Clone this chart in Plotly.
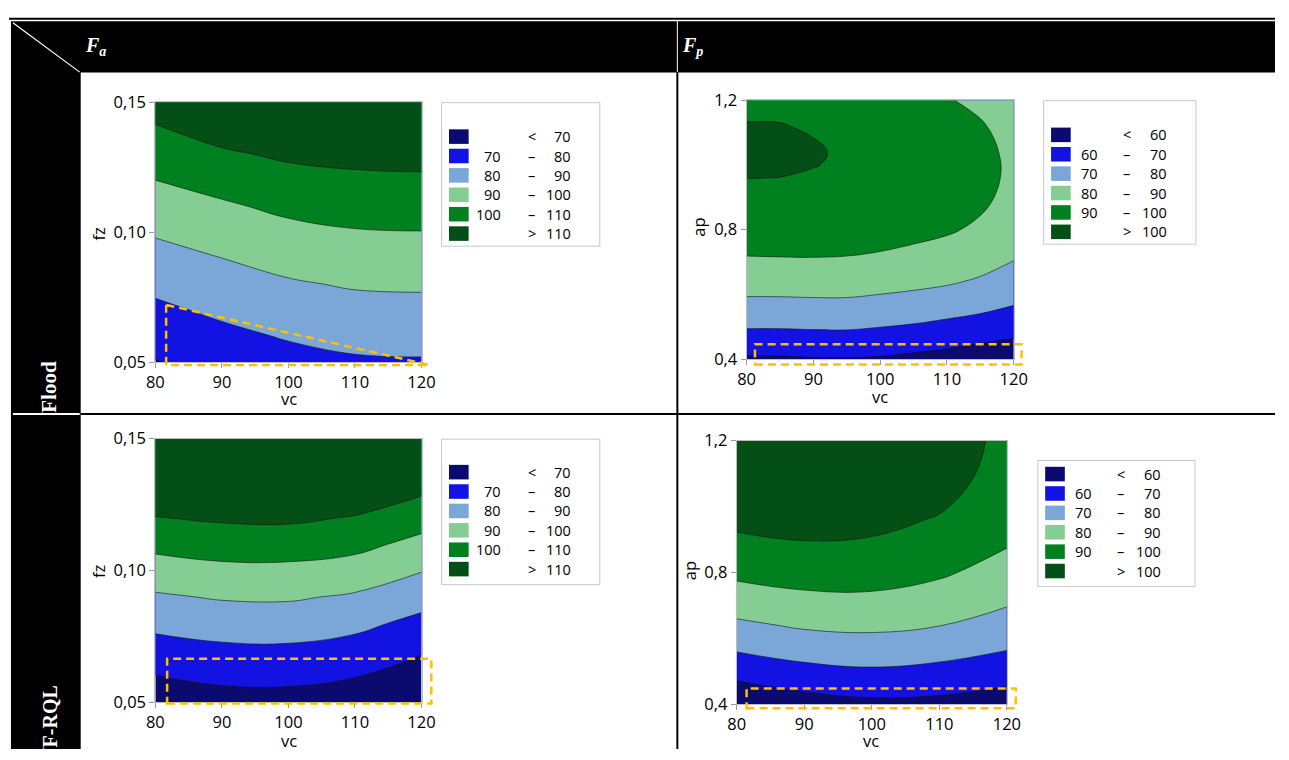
import plotly.graph_objects as go

W, H = 1289, 760
FONT = "Open Sans"
SERIF = "Liberation Serif"

# ---------------- data ----------------
vc = [80, 90, 100, 110, 120]
vc_fine = [80, 85, 90, 95, 100, 105, 110, 115, 120]
fz = [0.05, 0.06, 0.07, 0.08, 0.09, 0.10, 0.11, 0.12, 0.13, 0.14, 0.15]
ap = [0.40, 0.48, 0.56, 0.64, 0.72, 0.80, 0.88, 0.96, 1.04, 1.12, 1.20]
ap_fine = [0.40, 0.48, 0.56, 0.64, 0.72, 0.80, 0.88, 0.92, 0.96, 1.00, 1.04, 1.08, 1.12, 1.16, 1.20]

# Fa, Flood : one list per vc column, values along fz
fa_flood_cols = [
    [69.6, 73.8, 78.1, 82.3, 86.6, 91.0, 95.5, 100.0, 104.7, 109.3, 114.0],   # vc 80
    [73.6, 77.7, 81.8, 85.9, 90.0, 94.3, 98.7, 103.6, 108.7, 113.9, 119.0],   # vc 90
    [76.7, 80.8, 84.9, 89.0, 93.2, 97.6, 102.1, 106.8, 111.5, 116.2, 120.8],  # vc 100
    [78.8, 82.8, 86.8, 90.9, 95.2, 99.4, 103.8, 108.2, 112.6, 117.0, 121.5],  # vc 110
    [79.2, 83.2, 87.2, 91.3, 95.6, 99.8, 104.2, 108.6, 113.0, 117.4, 121.9],  # vc 120
]
# Fp, Flood : one list per vc column (vc_fine), values along ap_fine
fp_flood_cols = [
    [58.7, 68.5, 77.0, 84.2, 90.1, 94.7, 98.0, 99.18, 100.04, 100.57, 100.79, 100.68, 100.25, 99.49, 98.42],  # 80
    [58.8, 68.5, 77.0, 84.3, 90.3, 94.8, 97.97, 99.13, 99.97, 100.50, 100.71, 100.62, 100.20, 99.48, 98.44],  # 85
    [59.3, 68.8, 77.3, 84.4, 90.4, 94.65, 97.9, 98.94, 99.67, 100.10, 100.22, 100.035, 99.55, 98.75, 97.65],  # 90
    [59.4, 68.9, 77.3, 84.4, 90.1, 94.4, 97.45, 98.49, 99.2, 99.61, 99.7, 99.45, 98.9, 98.01, 96.8],       # 95
    [59.0, 68.0, 76.5, 83.4, 89.3, 93.7, 96.5, 97.43, 98.0, 98.2, 98.1, 97.6, 96.8, 95.63, 94.1],          # 100
    [57.7, 66.9, 75.4, 82.4, 88.0, 92.5, 95.2, 96.0, 96.5, 96.6, 96.4, 95.8, 94.9, 93.66, 92.1],           # 105
    [56.4, 65.3, 73.8, 81.1, 86.5, 91.0, 93.7, 94.55, 95.05, 95.2, 95.0, 94.45, 93.55, 92.3, 90.7],        # 110
    [53.9, 63.65, 72.0, 78.9, 84.45, 88.55, 91.2, 92.04, 92.5, 92.6, 92.3, 91.72, 90.8, 89.43, 87.75],     # 115
    [52.9, 61.9, 69.5, 75.9, 81.0, 84.7, 87.2, 87.9, 88.3, 88.4, 88.1, 87.57, 86.7, 85.45, 83.9],          # 120
]
# Fa, NF-RQL
fa_rql_cols = [
    [63.4, 69.8, 76.2, 82.5, 88.8, 95.6, 102.6, 109.7, 116.8, 123.9, 131.0],  # 80
    [66.1, 72.2, 78.2, 84.5, 90.8, 97.6, 104.5, 111.3, 118.2, 125.0, 131.8],  # 90
    [66.3, 72.4, 78.5, 84.7, 91.1, 97.7, 104.6, 111.7, 118.8, 125.9, 133.0],  # 100
    [64.3, 70.4, 76.4, 82.5, 88.8, 95.8, 102.7, 109.4, 116.1, 122.7, 129.4],  # 110
    [59.0, 65.1, 71.2, 77.4, 83.8, 90.4, 97.2, 104.2, 111.2, 118.2, 125.3],   # 120
]
# Fp, NF-RQL
fp_rql_cols = [
    [51.5, 61.0, 70.1, 78.2, 85.6, 92.1, 97.5, 102.2, 105.6, 108.0, 109.35],  # 80
    [55.45, 64.9, 73.5, 81.2, 88.0, 94.0, 99.1, 103.4, 106.8, 109.3, 111.0],  # 90
    [57.7, 66.65, 74.75, 82.0, 88.4, 93.95, 98.6, 102.45, 105.4, 107.5, 108.8],  # 100
    [57.2, 65.4, 73.0, 80.2, 86.1, 91.3, 95.7, 99.35, 102.3, 104.45, 105.9],  # 110
    [54.4, 62.5, 69.7, 76.1, 81.7, 86.4, 90.3, 93.3, 95.5, 96.8, 97.3],       # 120
]

vc_ticks = [80, 90, 100, 110, 120]
vc_ticktext = ["80", "90", "100", "110", "120"]
fz_ticks = [0.05, 0.10, 0.15]
fz_ticktext = ["0,05", "0,10", "0,15"]
ap_ticks = [0.4, 0.8, 1.2]
ap_ticktext = ["0,4", "0,8", "1,2"]

fa_levels = [70, 110]
fp_levels = [60, 100]
fa_legend_lo = ["", "70", "80", "90", "100", ""]
fa_legend_sym = ["<", "–", "–", "–", "–", ">"]
fa_legend_hi = ["70", "80", "90", "100", "110", "110"]
fp_legend_lo = ["", "60", "70", "80", "90", ""]
fp_legend_sym = ["<", "–", "–", "–", "–", ">"]
fp_legend_hi = ["60", "70", "80", "90", "100", "100"]

band_colors = ["#0b0a6f", "#1212e2", "#7ba6d8", "#84cd93", "#01801f", "#044f15"]

row_labels = ["Flood", "NF-RQL"]
x_title = "vc"
y_titles = ["fz", "ap", "fz", "ap"]


def px(x):
    return x / W


def py(y):
    return 1 - y / H


def stepped_scale(colors):
    n = len(colors)
    cs = []
    for i, c in enumerate(colors):
        lo = 0 if i == 0 else (i - 0.5) / (n - 1)
        hi = 1 if i == n - 1 else (i + 0.5) / (n - 1)
        cs += [[lo, c], [hi, c]]
    return cs


def contour(x, y, cols, levels, xa, ya):
    z = [list(r) for r in zip(*cols)]
    return go.Contour(
        x=x, y=y, z=z, xaxis=xa, yaxis=ya,
        colorscale=stepped_scale(band_colors), showscale=False,
        autocontour=False,
        contours=dict(start=levels[0], end=levels[1], size=10, coloring="fill"),
        line=dict(color="rgba(20,20,20,0.75)", width=0.8, smoothing=1.2),
        hoverinfo="skip",
    )


fig = go.Figure()
fig.add_trace(contour(vc, fz, fa_flood_cols, fa_levels, "x", "y"))
fig.add_trace(contour(vc_fine, ap_fine, fp_flood_cols, fp_levels, "x2", "y2"))
fig.add_trace(contour(vc, fz, fa_rql_cols, fa_levels, "x3", "y3"))
fig.add_trace(contour(vc, ap, fp_rql_cols, fp_levels, "x4", "y4"))

axis_style = dict(
    showgrid=False, zeroline=False, showline=True, linecolor="#bdbdbd",
    linewidth=1, mirror=True, ticks="outside", ticklen=5, tickcolor="#9a9a9a",
    tickfont=dict(family=FONT, size=16.5, color="black"),
)


def xaxis(x0, x1, anchor):
    return dict(axis_style, domain=[px(x0), px(x1)], anchor=anchor, range=[80, 120],
                tickvals=vc_ticks, ticktext=vc_ticktext)


def yaxis(y0, y1, anchor, rng, tv, tt):
    return dict(axis_style, domain=[py(y1), py(y0)], anchor=anchor, range=rng,
                tickvals=tv, ticktext=tt)


shapes = []
annotations = []


def rect(x0, y0, x1, y1, fill, line_color=None, lw=0):
    shapes.append(dict(type="rect", xref="paper", yref="paper",
                       x0=px(x0), x1=px(x1), y0=py(y1), y1=py(y0),
                       fillcolor=fill, line=dict(color=line_color or fill, width=lw), layer="above"))


def line(x0, y0, x1, y1, color, lw, dash=None):
    shapes.append(dict(type="line", xref="paper", yref="paper",
                       x0=px(x0), x1=px(x1), y0=py(y0), y1=py(y1),
                       line=dict(color=color, width=lw, dash=dash), layer="above"))


def text(x, y, s, size, xanchor="center", yanchor="middle", angle=0, family=FONT, color="black"):
    annotations.append(dict(x=px(x), y=py(y), xref="paper", yref="paper", xanchor=xanchor, yanchor=yanchor,
                            text=s, textangle=angle, showarrow=False,
                            font=dict(family=family, size=size, color=color)))


# ---- table frame ----
line(0, 7, W, 7, "black", 2)
rect(2, 9.5, W, 62.5, "black")
rect(2, 62, 73, H, "black")
line(4, 11, 72, 62, "white", 1.2)
line(680.5, 9.5, 680.5, 62.5, "white", 1)
line(680.5, 62, 680.5, H, "black", 2)
line(73, 414.5, W, 414.5, "black", 2)
line(4, 414.5, 72, 414.5, "white", 2)

text(75, 36, "<b><i>F</i><sub><i>a</i></sub></b>", 20, xanchor="left", family=SERIF, color="white")
text(683, 36, "<b><i>F</i><sub><i>p</i></sub></b>", 20, xanchor="left", family=SERIF, color="white")
text(41, 415, "<b>" + row_labels[0] + "</b>", 21, yanchor="bottom", angle=-90, family=SERIF, color="white")
text(41, 692, "<b>" + row_labels[1] + "</b>", 20, yanchor="top", angle=-90, family=SERIF, color="white")

# ---- axis titles ----
text(285, 399, x_title, 16.5)
text(887, 397, x_title, 16.5)
text(285, 751, x_title, 16.5)
text(878, 751, x_title, 16.5)
text(91, 228, y_titles[0], 16.5, angle=-90)
text(702, 222, y_titles[1], 16.5, angle=-90)
text(91, 576, y_titles[2], 16.5, angle=-90)
text(693, 576, y_titles[3], 16.5, angle=-90)


# ---- legends ----
def legend(box, sw_x, row0, lo_x, lo_anchor, sym_x, hi_x, lo, sym, hi):
    x0, y0, x1, y1 = box
    shapes.append(dict(type="rect", xref="paper", yref="paper", x0=px(x0), x1=px(x1), y0=py(y1), y1=py(y0),
                       fillcolor="white", line=dict(color="#c8c8c8", width=1), layer="above"))
    for i, c in enumerate(band_colors):
        yc = row0 + 20 * i
        rect(sw_x, yc - 7.5, sw_x + 20, yc + 7.5, c)
        if lo[i]:
            text(lo_x, yc, lo[i], 14.5, xanchor=lo_anchor)
        text(sym_x, yc, sym[i], 14.5)
        text(hi_x, yc, hi[i], 14.5, xanchor="right")


legend((440.5, 93.5, 601.5, 241.5), 448, 128.5, 503, "right", 532, 574, fa_legend_lo, fa_legend_sym, fa_legend_hi)
legend((1053.5, 91.5, 1208.5, 239.5), 1061, 126.7, 1089, "left", 1138, 1181, fp_legend_lo, fp_legend_sym, fp_legend_hi)
legend((440.5, 440.5, 601.5, 590.5), 448, 474.5, 503, "right", 532, 574, fa_legend_lo, fa_legend_sym, fa_legend_hi)
legend((1047.5, 462.5, 1207.5, 592.5), 1055, 476.5, 1083, "left", 1132, 1175, fp_legend_lo, fp_legend_sym, fp_legend_hi)

# ---- dashed highlight boxes ----
DASH = "8px,5px"
ORANGE = "#FFC000"
shapes.append(dict(type="path", xref="paper", yref="paper",
                   path="M {} {} L {} {} L {} {} Z".format(px(160), py(302), px(160), py(364), px(428), py(364)),
                   line=dict(color=ORANGE, width=2.5, dash=DASH), layer="above"))
for (x0, y0, x1, y1) in [(759.5, 342.5, 1031, 363.5), (161, 667, 430, 713), (751, 697.5, 1025, 718)]:
    shapes.append(dict(type="rect", xref="paper", yref="paper", x0=px(x0), x1=px(x1), y0=py(y1), y1=py(y0),
                       line=dict(color=ORANGE, width=2.5, dash=DASH), layer="above"))

fig.update_layout(
    width=W, height=H, autosize=False,
    margin=dict(l=0, r=0, t=0, b=0),
    paper_bgcolor="white", plot_bgcolor="white",
    showlegend=False,
    font=dict(family=FONT, color="black"),
    xaxis=xaxis(149, 420, "y"),
    yaxis=yaxis(93, 361, "x", [0.05, 0.15], fz_ticks, fz_ticktext),
    xaxis2=xaxis(751, 1023, "y2"),
    yaxis2=yaxis(91, 358, "x2", [0.4, 1.2], ap_ticks, ap_ticktext),
    xaxis3=xaxis(149, 420, "y3"),
    yaxis3=yaxis(440, 712, "x3", [0.05, 0.15], fz_ticks, fz_ticktext),
    xaxis4=xaxis(741, 1016, "y4"),
    yaxis4=yaxis(442, 714, "x4", [0.4, 1.2], ap_ticks, ap_ticktext),
    shapes=shapes,
    annotations=annotations,
)

fig.write_html("out.html", config={"displayModeBar": False},
               post_script="document.body.style.margin='0';document.body.style.overflow='hidden';")
